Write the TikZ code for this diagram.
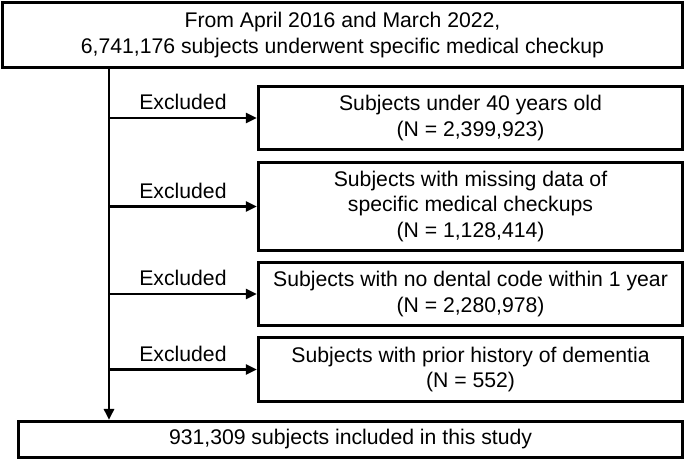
\documentclass[tikz,border=0pt]{standalone}
\usepackage{fontspec}
\setmainfont{Liberation Sans}
\usetikzlibrary{arrows.meta}
\begin{document}
\begin{tikzpicture}[x=0.5pt,y=-0.5pt]
  \tikzset{flow box/.style={draw,line width=1.6pt,inner sep=0pt,align=center,font=\fontsize{10.6}{12.8}\selectfont},
           excl arrow/.style={line width=1.3pt,-{Triangle[length=5.5pt,width=5pt]}}}
  \useasboundingbox (0,0) rectangle (685,462);

  \node [flow box, minimum width=340pt, minimum height=32.5pt] (start) at (342.5,35) {From April 2016 and March 2022,\\6,741,176 subjects underwent specific medical checkup};
  \node [flow box, minimum width=212pt, minimum height=31.5pt] (under) at (470.5,118) {Subjects under 40 years old\\(N = 2,399,923)};
  \node [flow box, minimum width=212pt, minimum height=44pt] (missing) at (470.5,206.5) {Subjects with missing data of\\specific medical checkups\\(N = 1,128,414)};
  \node [flow box, minimum width=212pt, minimum height=31.5pt] (dental) at (470.5,294) {Subjects with no dental code within 1 year\\(N = 2,280,978)};
  \node [flow box, minimum width=212pt, minimum height=32pt] (dementia) at (470.5,369.5) {Subjects with prior history of dementia\\(N = 552)};
  \node [flow box, minimum width=332pt, minimum height=18pt] (final) at (350.5,439.5) {931,309 subjects included in this study};

  \coordinate (trunk) at (109,0);
  \draw [line width=1.4pt, -{Triangle[length=5.5pt,width=5pt]}] (trunk |- start.south) -- (trunk |- final.north);
  \foreach \excl in {under,missing,dental,dementia}
    \draw [excl arrow] (trunk |- \excl.west) -- node [above, font=\fontsize{10.6}{12.8}\selectfont] {Excluded} (\excl.west);

\end{tikzpicture}
\end{document}
